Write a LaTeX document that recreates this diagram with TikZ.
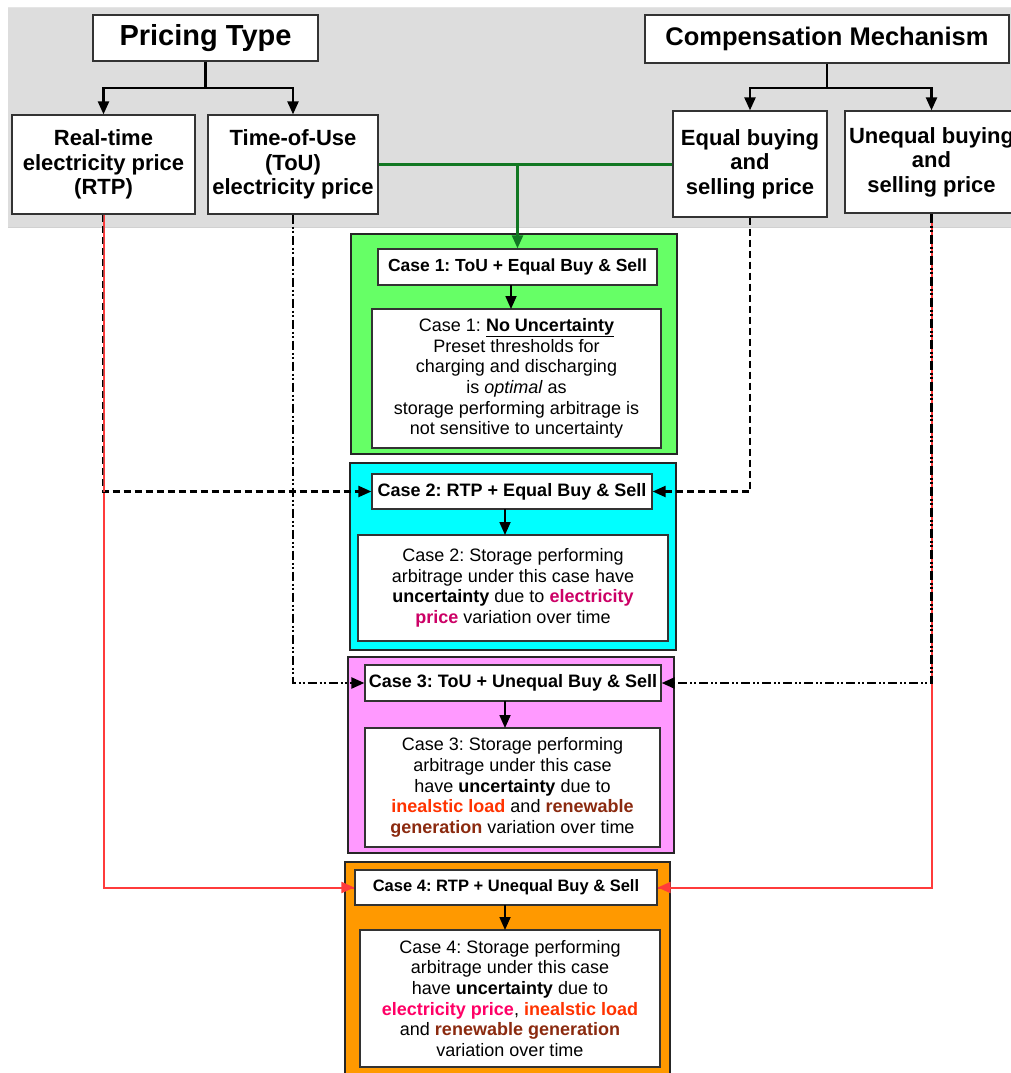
\documentclass[tikz,border=0pt]{standalone}
\usepackage{fontspec}
\setmainfont{Liberation Sans}
\usetikzlibrary{arrows.meta,calc}
\definecolor{bandgray}{HTML}{DDDDDD}
\definecolor{cgreen}{HTML}{66FF66}
\definecolor{ccyan}{HTML}{00FFFF}
\definecolor{cpink}{HTML}{FF99FF}
\definecolor{corange}{HTML}{FF9900}
\definecolor{lgreen}{HTML}{117722}
\definecolor{myred}{HTML}{FF3B3B}
\definecolor{mixdash}{HTML}{9A4A4A}
\definecolor{elecA}{HTML}{CC0066}
\definecolor{elecB}{HTML}{FF0066}
\definecolor{loadc}{HTML}{FF3300}
\definecolor{renc}{HTML}{8B2A0F}
\newcommand{\fs}[2]{\fontsize{#1}{#2}\selectfont\frenchspacing}
\frenchspacing
\begin{document}
\begin{tikzpicture}[x=1pt,y=-1pt,
  box/.style={draw=black!80, line width=1.3pt, fill=white, align=center, inner sep=0pt},
  casebox/.style={draw=black!85, line width=1.4pt, inner sep=0pt},
  conn/.style={line width=2.4pt, -{Triangle[length=13pt,width=11pt]}},
  dashconn/.style={line width=2.2pt, dash pattern=on 7pt off 4pt, -{Triangle[length=13pt,width=11pt]}},
  dotconn/.style={line width=2.3pt, dash pattern=on 9pt off 3pt on 2pt off 2pt on 2pt off 3pt, -{Triangle[length=13pt,width=11pt]}},
  redline/.style={draw=myred, line width=2pt},
  redtip/.style={draw=myred, line width=2pt, -{Triangle[length=13pt,width=11pt]}},
  greenconn/.style={line width=2.4pt, color=lgreen},
  topfont/.style={font=\fs{22}{24.5}\bfseries},
  bodyfont/.style={font=\fs{18}{20.7}},
]
\useasboundingbox (0,0) rectangle (1011,1073);
% grey band
\fill[bandgray] (8,8) rectangle (1011,227);
\draw[black!18, line width=1pt] (8,227.5) -- (1011,227.5);
\draw[black!10, line width=0.8pt] (8,7.5) -- (1011,7.5);

% top nodes
\node[box, font=\fs{29}{32}\bfseries, minimum width=225, minimum height=46] (pt) at (205.5,38) {Pricing Type};
\node[box, font=\fs{25.5}{28}\bfseries, minimum width=364, minimum height=48] (cm) at (827,39) {Compensation Mechanism};
\node[box, topfont, minimum width=183, minimum height=99] (rtp) at (103.5,164.5) {Real-time\\electricity price\\(RTP)};
\node[box, topfont, minimum width=170, minimum height=99] (tou) at (293,164.5) {Time-of-Use\\(ToU)\\electricity price};
\node[box, topfont, minimum width=154, minimum height=106] (eq) at (750,164) {Equal buying\\and\\selling price};
\node[box, topfont, minimum width=173, minimum height=102] (uq) at (931.5,162) {Unequal buying\\and\\selling price};

% case boxes
\node[casebox, fill=cgreen, minimum width=326, minimum height=220] (c1box) at (514,344) {};
\node[casebox, fill=ccyan, minimum width=326, minimum height=187] (c2box) at (513,556.5) {};
\node[casebox, fill=cpink, minimum width=326, minimum height=196] (c3box) at (511,755) {};
\node[casebox, fill=corange, minimum width=325, minimum height=220] (c4box) at (507.5,972) {};

\node[box, font=\fs{17.5}{20}\bfseries, minimum width=279, minimum height=36] (c1t) at (517.5,267) {Case 1: ToU + Equal Buy \& Sell};
\node[box, bodyfont, minimum width=289, minimum height=139] (c1b) at (516.5,378.5) {Case 1: \textbf{\underline{No Uncertainty}}\\Preset thresholds for\\charging and discharging\\is \textit{optimal} as\\storage performing arbitrage is\\not sensitive to uncertainty};

\node[box, font=\fs{18}{20}\bfseries, minimum width=280, minimum height=35] (c2t) at (512,491.5) {Case 2: RTP + Equal Buy \& Sell};
\node[box, font=\fs{18}{20.5}, minimum width=310, minimum height=106] (c2b) at (513,588) {Case 2: Storage performing\\arbitrage under this case have\\\textbf{uncertainty} due to \textcolor{elecA}{\bfseries electricity}\\\textcolor{elecA}{\bfseries price} variation over time};

\node[box, font=\fs{18}{20}\bfseries, minimum width=296, minimum height=36] (c3t) at (513,683) {Case 3: ToU + Unequal Buy \& Sell};
\node[box, bodyfont, minimum width=295, minimum height=119] (c3b) at (512.5,787.5) {Case 3: Storage performing\\arbitrage under this case\\have \textbf{uncertainty} due to\\\textcolor{loadc}{\bfseries inealstic load} and \textcolor{renc}{\bfseries renewable}\\\textcolor{renc}{\bfseries generation} variation over time};

\node[box, font=\fs{16.5}{19}\bfseries, minimum width=302, minimum height=35] (c4t) at (506,887.5) {Case 4: RTP + Unequal Buy \& Sell};
\node[box, bodyfont, minimum width=300, minimum height=137] (c4b) at (510,998.5) {Case 4: Storage performing\\arbitrage under this case\\have \textbf{uncertainty} due to\\\textcolor{elecB}{\bfseries electricity price}, \textcolor{loadc}{\bfseries inealstic load}\\and \textcolor{renc}{\bfseries renewable generation}\\variation over time};

% tree connectors
\coordinate (ptj) at (205.5,88);
\coordinate (cmj) at (827,88);
\draw[line width=2.4pt] (pt.south) -- (ptj);
\draw[conn] (ptj) -| (rtp.north);
\draw[conn] (ptj) -| (tou.north);
\draw[line width=2.4pt] (cm.south) -- (cmj);
\draw[conn] (cmj) -| (eq.north);
\draw[conn] (cmj) -| (uq.north);

% green
\draw[greenconn] (tou.east) -- (tou.east -| eq.west);
\coordinate (gj) at (c1t.north |- tou.east);
\draw[greenconn, -{Triangle[length=13pt,width=11pt]}] (gj) -- (c1t.north);

% inner arrows
\draw[conn, line width=1.8pt] (511,285) -- (511,309);
\draw[conn, line width=1.8pt] (505,509) -- (505,535);
\draw[conn, line width=1.8pt] (505,701) -- (505,728);
\draw[conn, line width=1.8pt] (505,905) -- (505,930);

% case 4 red (under the black ones)
\draw[redline] (uq.south) |- (c4t.east);
\draw[redline] (rtp.south) |- (c4t.west);
\draw[redtip] (c4t.west) ++(-16,0) -- (c4t.west);
\draw[redtip] (c4t.east) ++(16,0) -- (c4t.east);
% case 2 (dashed)
\draw[dashconn] (rtp.south) |- (c2t.west);
\draw[dashconn] (eq.south) |- (c2t.east);
% red over the left dashed run
\draw[redline] (rtp.south) -- (rtp.south |- c2t.west);
\draw[line width=1.2pt, draw=mixdash, dash pattern=on 7pt off 4pt] (rtp.south) -- (rtp.south |- c2t.west);
% case 3 (dash-dot)
\draw[dotconn] (tou.south) |- (c3t.west);
\draw[dotconn] (uq.south) |- (c3t.east);
\end{tikzpicture}
\end{document}
